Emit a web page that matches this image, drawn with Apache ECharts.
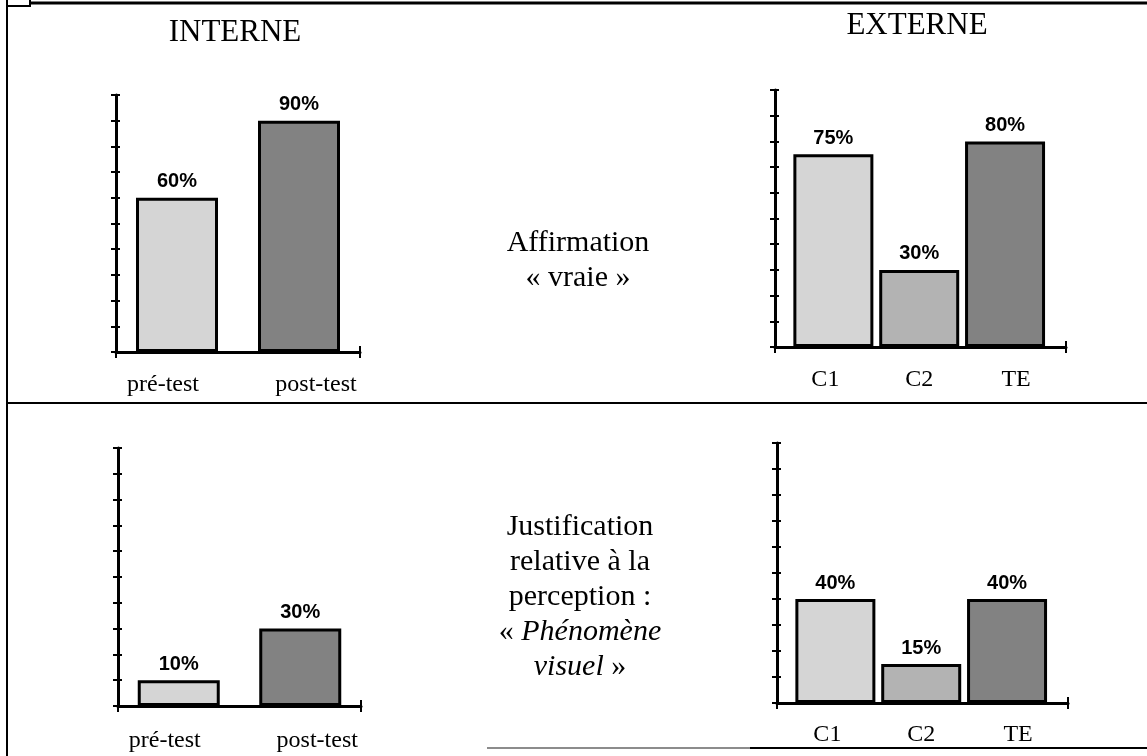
<!DOCTYPE html>
<html>
<head>
<meta charset="utf-8">
<script src="https://cdn.jsdelivr.net/npm/echarts@6/dist/echarts.min.js"></script>
<style>
html,body{margin:0;padding:0;background:#fff;}
#chart{width:1147px;height:756px;}
</style>
</head>
<body>
<div id="chart"></div>
<script>
// ---- data ----
const interneCategories = ['pré-test', 'post-test'];
const externeCategories = ['C1', 'C2', 'TE'];
const affirmationInterne = [60, 90];
const affirmationExterne = [75, 30, 80];
const justificationInterne = [10, 30];
const justificationExterne = [40, 15, 40];
const panelTitles = ['INTERNE', 'EXTERNE'];
const rowLabelAffirmation = 'Affirmation\n« vraie »';
const rowLabelJustification = 'Justification\nrelative à la\nperception :\n« {i|Phénomène}\n{i|visuel} »';
const yTicks = { min: 0, max: 100, interval: 10 };

// ---- styles ----
const LIGHT = '#d5d5d5', MEDIUM = '#b3b3b3', DARK = '#828282';
const interneColors = [LIGHT, DARK];
const externeColors = [LIGHT, MEDIUM, DARK];
const SERIF = '"Liberation Serif", "Times New Roman", serif';
const SANS = '"Liberation Sans", Arial, sans-serif';
const AXIS_FONT = 24;

const grids = [
  { left: 116, top: 95, width: 244, height: 257 },
  { left: 775, top: 90, width: 291, height: 257 },
  { left: 118, top: 448, width: 243, height: 258 },
  { left: 777, top: 443, width: 291, height: 260 }
];
const panels = [
  { cats: interneCategories, values: affirmationInterne, colors: interneColors, min: -0.5, max: 1.5, barWidth: 82, margin: 21, shifts: [-14, 17] },
  { cats: externeCategories, values: affirmationExterne, colors: externeColors, min: -0.68, max: 2.71, barWidth: 80, margin: 21, shifts: [-8, 0, 11] },
  { cats: interneCategories, values: justificationInterne, colors: interneColors, min: -0.5, max: 1.5, barWidth: 82, margin: 23, shifts: [-14, 17] },
  { cats: externeCategories, values: justificationExterne, colors: externeColors, min: -0.68, max: 2.71, barWidth: 80, margin: 20, shifts: [-8, 0, 11] }
];

const xAxis = [], yAxis = [], series = [];
panels.forEach((p, gi) => {
  const rich = {};
  p.shifts.forEach((s, i) => {
    rich['c' + i] = {
      fontFamily: SERIF, fontSize: AXIS_FONT, color: '#000',
      padding: s < 0 ? [0, -2 * s, 0, 0] : [0, 0, 0, 2 * s]
    };
  });
  xAxis.push({
    gridIndex: gi, type: 'value', min: p.min, max: p.max, position: 'bottom',
    splitLine: { show: false },
    axisLine: { show: true, onZero: false, lineStyle: { color: '#000', width: 3 } },
    axisTick: { show: true, customValues: [p.min, p.max], length: 6, inside: false, lineStyle: { color: '#000', width: 2 } },
    axisLabel: {
      customValues: p.cats.map((c, i) => i),
      margin: p.margin,
      fontFamily: SERIF, fontSize: AXIS_FONT, color: '#000',
      formatter: v => { const i = Math.round(v); return '{c' + i + '|' + p.cats[i] + '}'; },
      rich: rich
    }
  });
  xAxis.push({
    gridIndex: gi, type: 'value', min: p.min, max: p.max, position: 'bottom',
    splitLine: { show: false },
    axisLine: { show: false, onZero: false },
    axisTick: { show: true, customValues: [p.max], length: 6, inside: true, lineStyle: { color: '#000', width: 2 } },
    axisLabel: { show: false }
  });
  yAxis.push({
    gridIndex: gi, type: 'value', min: yTicks.min, max: yTicks.max, interval: yTicks.interval, position: 'left',
    splitLine: { show: false },
    axisLine: { show: true, onZero: false, lineStyle: { color: '#000', width: 3 } },
    axisTick: { show: true, length: 5, inside: false, lineStyle: { color: '#000', width: 2 } },
    axisLabel: { show: false }
  });
  yAxis.push({
    gridIndex: gi, type: 'value', min: yTicks.min, max: yTicks.max, interval: yTicks.interval, position: 'left',
    splitLine: { show: false },
    axisLine: { show: false, onZero: false },
    axisTick: { show: true, length: 4, inside: true, lineStyle: { color: '#000', width: 2 } },
    axisLabel: { show: false }
  });
  series.push({
    type: 'bar',
    xAxisIndex: 2 * gi, yAxisIndex: 2 * gi,
    barWidth: p.barWidth,
    data: p.values.map((v, i) => ({ value: [i, v], itemStyle: { color: p.colors[i] } })),
    itemStyle: { borderColor: '#000', borderWidth: 3 },
    label: {
      show: true, position: 'top', distance: 6,
      formatter: d => d.value[1] + '%',
      fontFamily: SANS, fontWeight: 'bold', fontSize: 20, color: '#000'
    },
    silent: true,
    animation: false
  });
});

const line = (x1, y1, x2, y2, w, c) => ({
  type: 'line', silent: true,
  shape: { x1, y1, x2, y2 },
  style: { stroke: c || '#000', lineWidth: w }
});
const text = (t, x, y, size, lh, extra) => ({
  type: 'text', silent: true, x, y,
  style: Object.assign({
    text: t, fontFamily: SERIF, fontSize: size, fill: '#000',
    align: 'center', verticalAlign: 'middle', lineHeight: lh
  }, extra || {})
});

const option = {
  backgroundColor: '#fff',
  animation: false,
  grid: grids,
  xAxis, yAxis, series,
  graphic: [
    line(7, 0, 7, 756, 2),
    line(30, 0, 30, 7, 2),
    line(7, 6, 30, 6, 2),
    line(30, 3, 1147, 3, 3),
    line(7, 403, 1147, 403, 2),
    line(487, 748, 750, 748, 1.5, '#666'),
    line(750, 748, 1147, 748, 2),
    text(panelTitles[0], 235, 33, 31, 34),
    text(panelTitles[1], 917, 26, 31, 34),
    text(rowLabelAffirmation, 578, 261, 30, 35),
    text(rowLabelJustification, 580, 597, 30, 35, {
      rich: { i: { fontFamily: SERIF, fontSize: 30, fontStyle: 'italic', lineHeight: 35, fill: '#000' } }
    })
  ]
};

const chart = echarts.init(document.getElementById('chart'), null, { renderer: 'canvas' });
chart.setOption(option);
</script>
</body>
</html>
